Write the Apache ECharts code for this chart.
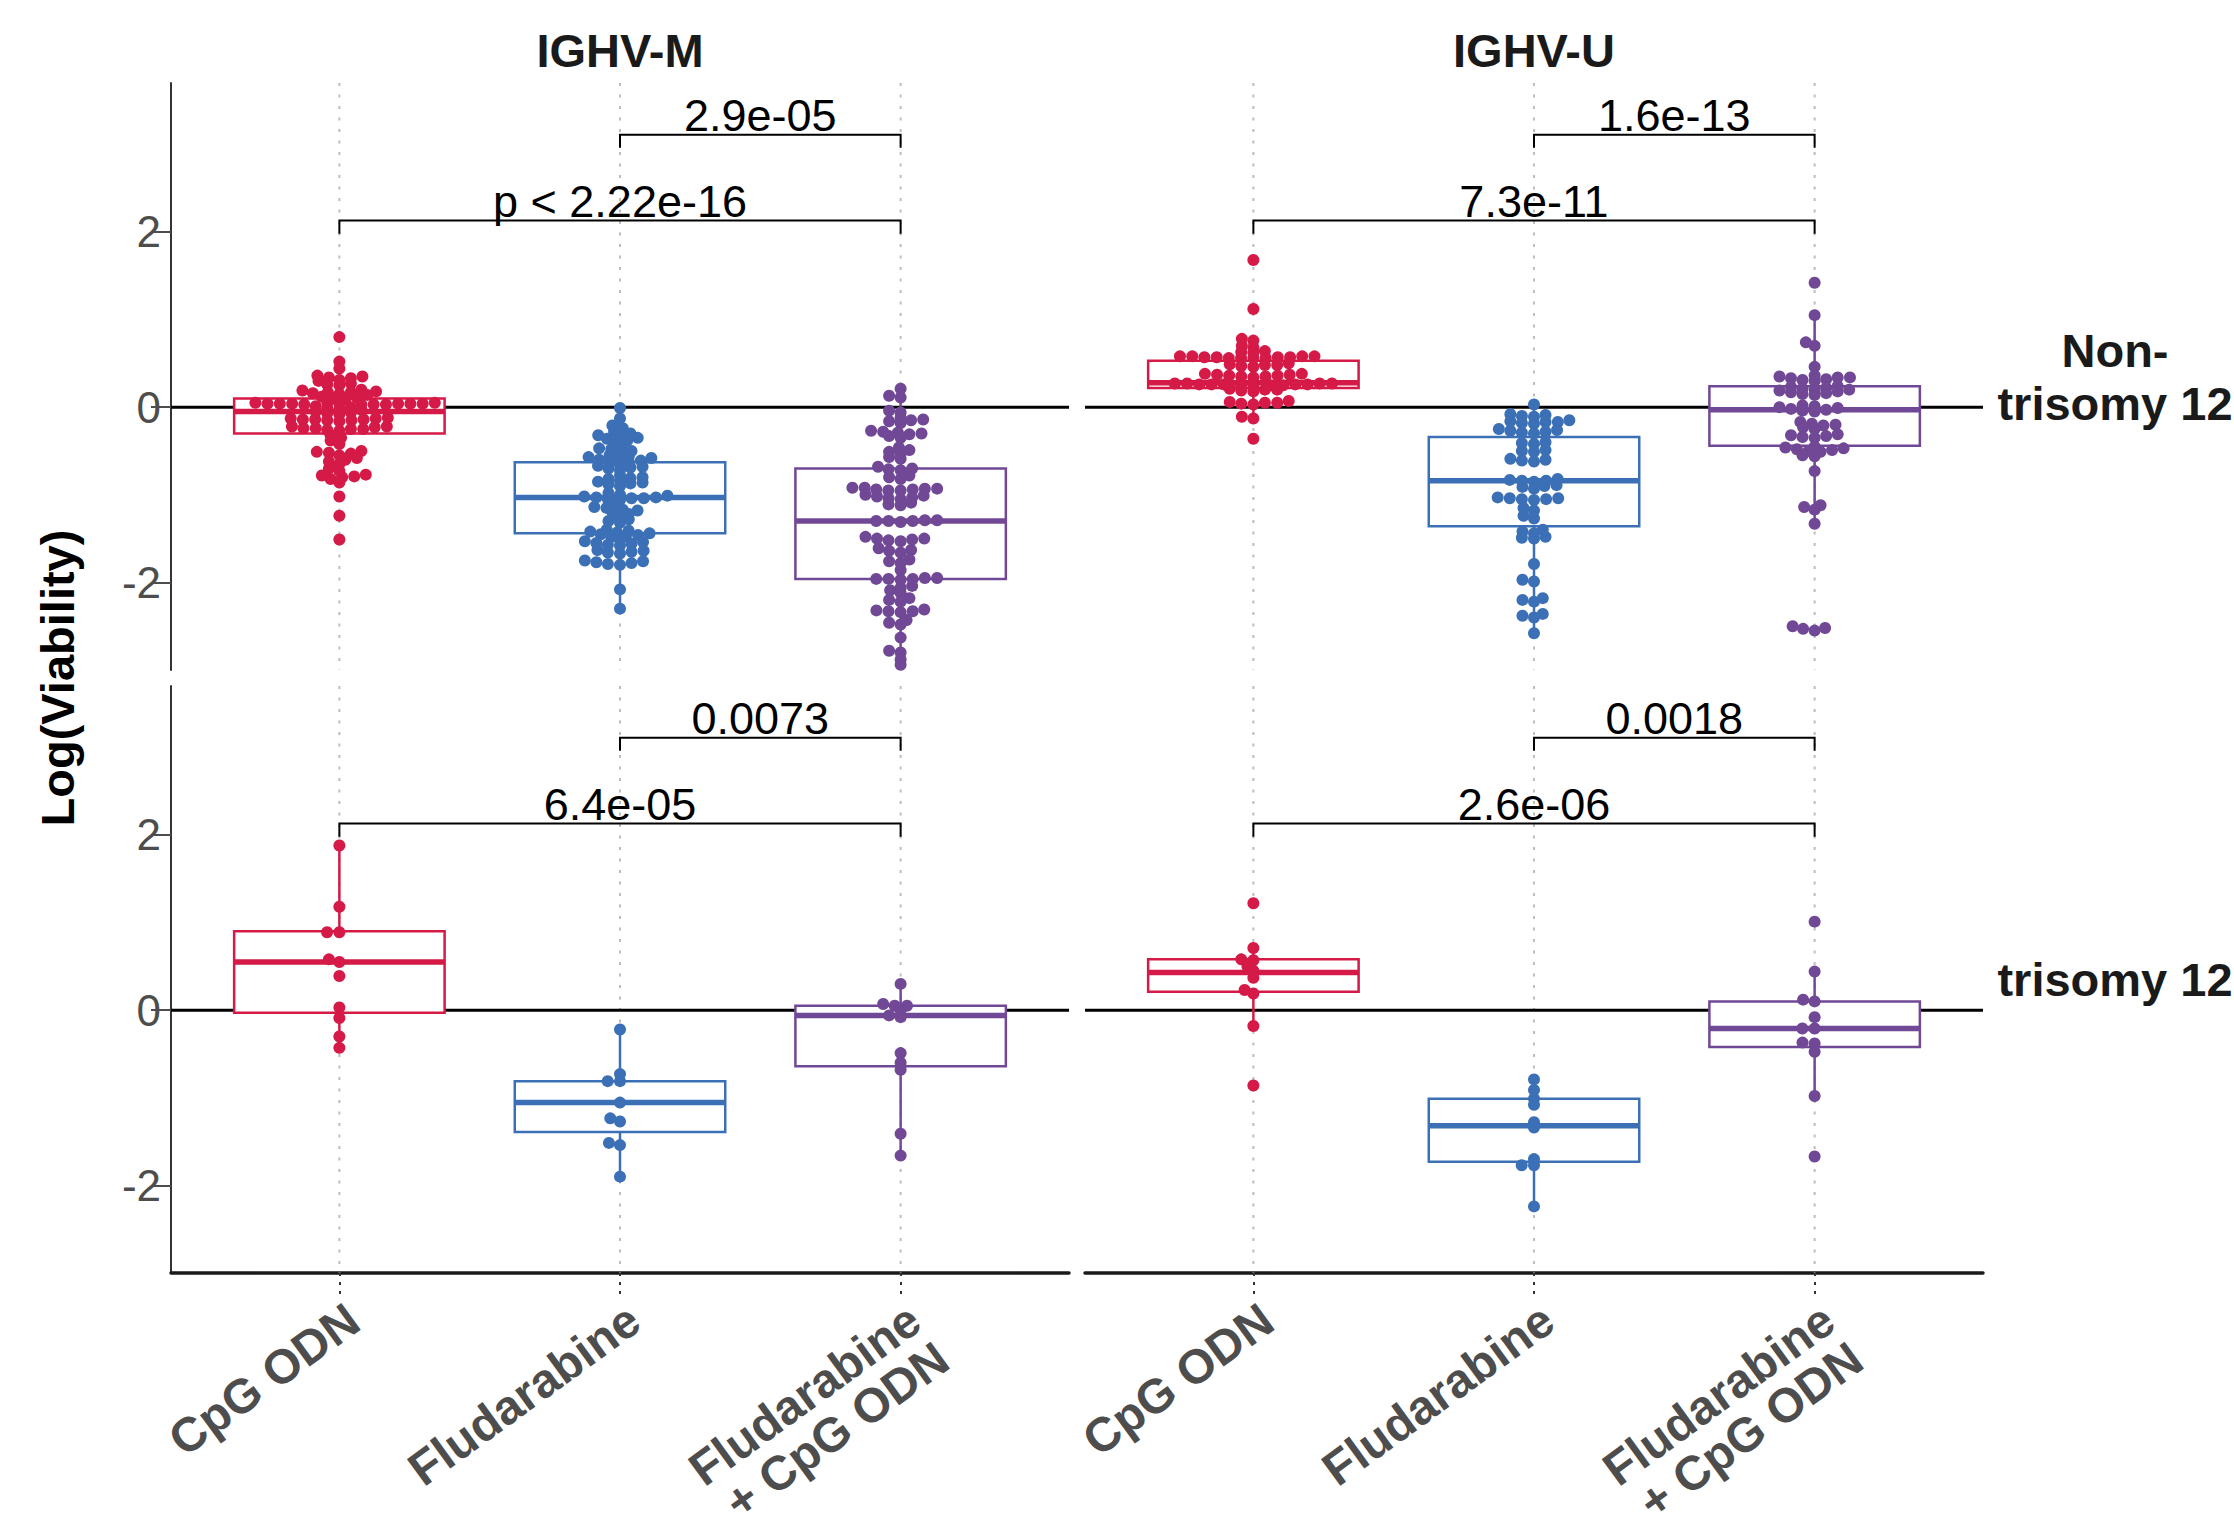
<!DOCTYPE html>
<html>
<head>
<meta charset="utf-8">
<script src="https://cdn.jsdelivr.net/npm/echarts@6/dist/echarts.min.js"></script>
<style>
html, body {margin: 0; padding: 0; background: #fff;}
#main {width: 2234px; height: 1528px;}
</style>
</head>
<body>
<div id="main"></div>
<script>
var categories = ['CpG ODN', 'Fludarabine', 'Fludarabine\n+ CpG ODN'];
var colors = ['#D51A47', '#3C70B6', '#704896'];
var yTicks = [-2, 0, 2];
var catTicks = [1, 2, 3];

// IGHV-M, non-trisomy 12
var mNonCpg = [0.80, 0.52, 0.44,
    0.36, 0.33, 0.34, 0.31, 0.35, 0.30, 0.26, 0.25, 0.27,
    0.19, 0.17, 0.18, 0.16, 0.20, 0.15, 0.14, 0.17, 0.11, 0.09, 0.12, 0.10,
    0.05, 0.04, 0.04, 0.03, 0.04, 0.05, 0.03, 0.04, 0.04, 0.03, 0.05, 0.04, 0.03, 0.04,
    0.00, -0.01, -0.02, 0.01, -0.03, -0.06, -0.07, -0.05, -0.08,
    -0.13, -0.14, -0.15, -0.12, -0.14, -0.13, -0.15, -0.16, -0.14,
    -0.22, -0.24, -0.25, -0.23, -0.26, -0.24, -0.22, -0.25, -0.27,
    -0.32, -0.35, -0.38, -0.42, -0.50, -0.52, -0.53, -0.51, -0.55,
    -0.60, -0.62, -0.58, -0.65, -0.70, -0.73,
    -0.77, -0.78, -0.80, -0.79, -0.82, -0.86, -1.02, -1.24, -1.51];
var mNonFlu = [-0.01, -0.13, -0.21, -0.24,
    -0.28, -0.30, -0.32, -0.35, -0.36, -0.38, -0.40, -0.33,
    -0.45, -0.47, -0.50, -0.48, -0.52,
    -0.55, -0.57, -0.58, -0.60, -0.59, -0.62, -0.56, -0.61, -0.63,
    -0.66, -0.68, -0.70, -0.67, -0.72, -0.69,
    -0.78, -0.80, -0.82, -0.84, -0.85, -0.87, -0.88, -0.90, -0.81, -0.86,
    -0.98, -1.00, -1.02, -1.03, -1.04, -1.05, -1.03, -1.01, -1.06, -1.04,
    -1.12, -1.15, -1.17, -1.20, -1.22, -1.25, -1.18, -1.14,
    -1.30, -1.32, -1.28,
    -1.40, -1.42, -1.44, -1.45, -1.46, -1.43, -1.41, -1.47, -1.48,
    -1.53, -1.55, -1.57, -1.56, -1.54, -1.58, -1.52,
    -1.63, -1.65, -1.66, -1.64, -1.67,
    -1.75, -1.77, -1.78, -1.80, -1.79, -1.76, -2.08, -2.30];
var mNonCombo = [0.21, 0.13, 0.11, -0.04, -0.06,
    -0.12, -0.14, -0.16, -0.18, -0.15,
    -0.27, -0.29, -0.31, -0.33, -0.35, -0.30, -0.28,
    -0.46, -0.49, -0.51, -0.53, -0.57, -0.59,
    -0.68, -0.70, -0.72, -0.71, -0.78, -0.80, -0.82,
    -0.92, -0.93, -0.94, -0.95, -0.94, -0.93, -0.92, -0.95,
    -1.00, -1.02, -1.04, -1.05, -1.01, -1.03, -1.09, -1.11, -1.12,
    -1.29, -1.30, -1.30, -1.31, -1.30, -1.29,
    -1.48, -1.50, -1.51, -1.52, -1.53, -1.50,
    -1.61, -1.63, -1.64, -1.66, -1.74, -1.76, -1.78, -1.86,
    -1.95, -1.96, -1.96, -1.97, -1.96, -1.95,
    -2.04, -2.06, -2.09, -2.12, -2.18, -2.20, -2.22,
    -2.31, -2.33, -2.34, -2.33, -2.32, -2.43, -2.46, -2.48,
    -2.63, -2.78, -2.80, -2.88, -2.94];

// IGHV-U, non-trisomy 12
var uNonCpg = [1.68, 1.12, 0.78, 0.76, 0.70, 0.68, 0.64, 0.62, 0.63,
    0.58, 0.57, 0.56, 0.58, 0.57, 0.56, 0.57, 0.58, 0.56, 0.57, 0.58, 0.56,
    0.50, 0.48, 0.47, 0.49, 0.46, 0.48,
    0.38, 0.36, 0.35, 0.37, 0.36, 0.34, 0.38, 0.35, 0.37,
    0.27, 0.26, 0.25, 0.27, 0.26, 0.25, 0.26, 0.27, 0.26, 0.25, 0.27, 0.25, 0.26,
    0.21, 0.20, 0.19, 0.20, 0.18,
    0.07, 0.05, 0.04, 0.06, 0.03, 0.05, -0.11, -0.13, -0.36];
var uNonFlu = [0.03, -0.08, -0.10, -0.11, -0.09,
    -0.15, -0.17, -0.18, -0.16, -0.19, -0.17,
    -0.25, -0.27, -0.29, -0.26, -0.28, -0.30,
    -0.40, -0.42, -0.41, -0.49, -0.51, -0.50, -0.59, -0.60, -0.62, -0.61,
    -0.82, -0.83, -0.84, -0.85, -0.84, -0.89, -0.91, -0.93, -0.90,
    -1.03, -1.04, -1.05, -1.06, -1.05, -1.04, -1.15, -1.18, -1.24, -1.27,
    -1.40, -1.42, -1.44, -1.48, -1.50, -1.49, -1.79, -1.97, -1.99,
    -2.18, -2.20, -2.22, -2.36, -2.38, -2.40, -2.58];
var uNonCombo = [1.42, 1.05, 0.74, 0.70, 0.46,
    0.36, 0.34, 0.32, 0.33, 0.35, 0.31, 0.30, 0.34,
    0.24, 0.22, 0.20, 0.18, 0.16, 0.21, 0.19, 0.15, 0.23, 0.17, 0.14, 0.20,
    0.02, 0.00, -0.02, -0.04, -0.01, -0.03, 0.01, -0.05,
    -0.17, -0.19, -0.21, -0.23, -0.25, -0.20,
    -0.31, -0.33, -0.35, -0.34, -0.32,
    -0.46, -0.48, -0.50, -0.47, -0.49, -0.45, -0.51, -0.55, -0.56,
    -0.73, -1.12, -1.14, -1.17, -1.33, -2.50, -2.52, -2.55, -2.53];

// IGHV-M, trisomy 12
var mTriCpg = [1.88, 1.18, 0.89, 0.89, 0.58, 0.55, 0.39, 0.03, -0.09, -0.30, -0.43];
var mTriFlu = [-0.22, -0.73, -0.81, -0.81, -1.055, -1.235, -1.27, -1.515, -1.54, -1.90];
var mTriCombo = [0.30, 0.07, 0.05, 0.05, 0.00, -0.06, -0.08, -0.49, -0.60, -0.68, -1.41, -1.66];

// IGHV-U, trisomy 12
var uTriCpg = [1.22, 0.71, 0.58, 0.57, 0.50, 0.45, 0.37, 0.23, 0.19, -0.18, -0.86];
var uTriFlu = [-0.79, -0.91, -1.01, -1.08, -1.28, -1.34, -1.70, -1.77, -1.77, -2.24];
var uTriCombo = [1.01, 0.44, 0.10, 0.12, -0.08, -0.21, -0.21, -0.37, -0.38, -0.475, -0.98, -1.67];

// boxes: [q1, median, q3] per treatment
var mNonBox = [[-0.30, -0.05, 0.10], [-1.44, -1.03, -0.63], [-1.96, -1.30, -0.70]];
var uNonBox = [[0.22, 0.28, 0.53], [-1.36, -0.84, -0.34], [-0.44, -0.03, 0.24]];
var mTriBox = [[-0.03, 0.55, 0.90], [-1.39, -1.055, -0.81], [-0.64, -0.06, 0.05]];
var uTriBox = [[0.21, 0.43, 0.58], [-1.73, -1.32, -1.01], [-0.42, -0.21, 0.10]];

// p-values: [CpG vs combo, Fludarabine vs combo]
var mNonP = ['p < 2.22e-16', '2.9e-05'];
var uNonP = ['7.3e-11', '1.6e-13'];
var mTriP = ['6.4e-05', '0.0073'];
var uTriP = ['2.6e-06', '0.0018'];
var bracketY = [2.13, 3.11];

var FONT = '"Liberation Sans", Arial, Helvetica, sans-serif';
var X_MIN = 0.4, X_MAX = 3.6, Y_MIN = -3, Y_MAX = 3.7;
var GW = 898, GH = 587;
var lefts = [171, 1085], tops = [83, 686];
var pxX = GW / (X_MAX - X_MIN), pxY = GH / (Y_MAX - Y_MIN);
var DOT = 12;
var SPACE_X = 12.3, SPACE_Y = 5;

var panels = [
    {col: 0, row: 0, groups: [mNonCpg, mNonFlu, mNonCombo], box: mNonBox, p: mNonP},
    {col: 1, row: 0, groups: [uNonCpg, uNonFlu, uNonCombo], box: uNonBox, p: uNonP},
    {col: 0, row: 1, groups: [mTriCpg, mTriFlu, mTriCombo], box: mTriBox, p: mTriP},
    {col: 1, row: 1, groups: [uTriCpg, uTriFlu, uTriCombo], box: uTriBox, p: uTriP}
];

// beeswarm offsets (in x data units) from the values
function swarm(vals) {
    var order = vals.map(function (v, i) { return i; })
        .sort(function (a, b) { return vals[a] - vals[b]; });
    var placed = [], out = [];
    order.forEach(function (i) {
        var y = vals[i] * pxY / SPACE_Y;
        var near = placed.filter(function (p) { return Math.abs(p.y - y) < 1; });
        var cands = [0];
        near.forEach(function (p) {
            var dx = Math.sqrt(1 - (p.y - y) * (p.y - y));
            cands.push(p.x - dx, p.x + dx);
        });
        cands.sort(function (a, b) { return Math.abs(a) - Math.abs(b); });
        var x = 0;
        for (var k = 0; k < cands.length; k++) {
            var c = cands[k];
            var ok = near.every(function (p) {
                return (p.x - c) * (p.x - c) + (p.y - y) * (p.y - y) >= 0.999;
            });
            if (ok) { x = c; break; }
        }
        placed.push({x: x, y: y});
        out[i] = x * SPACE_X / pxX;
    });
    return out;
}

function whiskers(vals, b) {
    var iqr = b[2] - b[0];
    var lo = b[0], hi = b[2];
    vals.forEach(function (v) {
        if (v >= b[0] - 1.5 * iqr && v < lo) lo = v;
        if (v <= b[2] + 1.5 * iqr && v > hi) hi = v;
    });
    return [lo, hi];
}

var grids = [], xAxes = [], yAxes = [], series = [];

panels.forEach(function (pn, gi) {
    var bottom = pn.row === 1, left = pn.col === 0;
    grids.push({left: lefts[pn.col], top: tops[pn.row], width: GW, height: GH,
        containLabel: false, outerBoundsMode: 'none'});
    xAxes.push({
        type: 'value', gridIndex: gi, min: X_MIN, max: X_MAX,
        splitLine: {show: false},
        axisLine: {show: bottom, onZero: false, lineStyle: {color: '#1a1a1a', width: 3.5}},
        axisTick: {show: bottom, customValues: catTicks, length: 24,
            lineStyle: {color: '#333', width: 2, type: [3, 6]}},
        axisLabel: {show: bottom, customValues: catTicks, rotate: 36, margin: 22,
            align: 'right', verticalAlign: 'top', lineHeight: 48,
            fontFamily: FONT, fontSize: 48, fontWeight: 'bold', color: '#4d4d4d',
            formatter: function (v) { return categories[Math.round(v) - 1] || ''; }}
    });
    yAxes.push({
        type: 'value', gridIndex: gi, min: Y_MIN, max: Y_MAX,
        splitLine: {show: false},
        axisLine: {show: left, onZero: false, lineStyle: {color: '#333', width: 2}},
        axisTick: {show: left, customValues: yTicks, length: 20,
            lineStyle: {color: '#4d4d4d', width: 2}},
        axisLabel: {show: left, customValues: yTicks, margin: 10,
            fontFamily: FONT, fontSize: 44, color: '#4d4d4d',
            formatter: function (v) { return String(v); }}
    });

    // dotted guides at each treatment
    series.push({
        type: 'custom', xAxisIndex: gi, yAxisIndex: gi, z: 1, silent: true, clip: false,
        data: catTicks,
        renderItem: function (params, api) {
            var a = api.coord([api.value(0), Y_MAX]), b = api.coord([api.value(0), Y_MIN]);
            return {type: 'line', shape: {x1: a[0], y1: a[1], x2: b[0], y2: b[1]},
                style: {stroke: '#bdbdbd', lineWidth: 2, lineDash: [3, 8.5]}};
        }
    });
    // reference line at 0
    series.push({
        type: 'custom', xAxisIndex: gi, yAxisIndex: gi, z: 2, silent: true, clip: false,
        data: [0],
        renderItem: function (params, api) {
            var a = api.coord([X_MIN, api.value(0)]), b = api.coord([X_MAX, api.value(0)]);
            return {type: 'line', shape: {x1: a[0], y1: a[1], x2: b[0], y2: b[1]},
                style: {stroke: '#000', lineWidth: 3}};
        }
    });
    // boxes
    var boxData = pn.box.map(function (b, g) {
        var w = whiskers(pn.groups[g], b);
        return [g + 1, w[0], b[0], b[1], b[2], w[1]];
    });
    series.push({
        type: 'custom', xAxisIndex: gi, yAxisIndex: gi, z: 3, silent: true, clip: false,
        data: boxData,
        renderItem: function (params, api) {
            var x = api.value(0), hw = 0.375;
            var col = colors[params.dataIndex];
            var lo = api.coord([x, api.value(1)]), q1 = api.coord([x, api.value(2)]);
            var md = api.coord([x, api.value(3)]), q3 = api.coord([x, api.value(4)]);
            var hi = api.coord([x, api.value(5)]);
            var l = api.coord([x - hw, 0])[0], r = api.coord([x + hw, 0])[0];
            return {type: 'group', children: [
                {type: 'line', shape: {x1: lo[0], y1: lo[1], x2: q1[0], y2: q1[1]},
                    style: {stroke: col, lineWidth: 2.5}},
                {type: 'line', shape: {x1: q3[0], y1: q3[1], x2: hi[0], y2: hi[1]},
                    style: {stroke: col, lineWidth: 2.5}},
                {type: 'rect', shape: {x: l, y: q3[1], width: r - l, height: q1[1] - q3[1]},
                    style: {fill: '#fff', stroke: col, lineWidth: 2.5}},
                {type: 'line', shape: {x1: l, y1: md[1], x2: r, y2: md[1]},
                    style: {stroke: col, lineWidth: 5.5}}
            ]};
        }
    });
    // points
    pn.groups.forEach(function (vals, g) {
        var off = swarm(vals);
        series.push({
            type: 'scatter', xAxisIndex: gi, yAxisIndex: gi, z: 4, silent: true,
            symbolSize: DOT, itemStyle: {color: colors[g], opacity: 1},
            data: vals.map(function (v, i) { return [g + 1 + off[i], v]; })
        });
    });
    // comparison brackets
    series.push({
        type: 'custom', xAxisIndex: gi, yAxisIndex: gi, z: 5, silent: true, clip: false,
        data: [[1, 3, bracketY[0]], [2, 3, bracketY[1]]],
        renderItem: function (params, api) {
            var y = api.value(2), tip = 0.15;
            var a = api.coord([api.value(0), y - tip]), b = api.coord([api.value(0), y]);
            var c = api.coord([api.value(1), y]), d = api.coord([api.value(1), y - tip]);
            return {type: 'group', children: [
                {type: 'polyline', shape: {points: [a, b, c, d]},
                    style: {stroke: '#000', lineWidth: 2, fill: null}},
                {type: 'text', x: (b[0] + c[0]) / 2, y: b[1] + 3,
                    style: {text: pn.p[params.dataIndex], align: 'center', verticalAlign: 'bottom',
                        fontFamily: FONT, fontSize: 45, fill: '#000'}}
            ]};
        }
    });
});

var textStyleBold = function (txt, size) {
    return {text: txt, fontFamily: FONT, fontSize: size, fontWeight: 'bold', fill: '#1a1a1a',
        align: 'center', verticalAlign: 'middle', lineHeight: 53};
};

var chart = echarts.init(document.getElementById('main'), null, {renderer: 'svg'});
chart.setOption({
    animation: false,
    backgroundColor: '#fff',
    grid: grids,
    xAxis: xAxes,
    yAxis: yAxes,
    series: series,
    graphic: [
        {type: 'text', x: lefts[0] + GW / 2, y: 50, style: textStyleBold('IGHV-M', 47)},
        {type: 'text', x: lefts[1] + GW / 2, y: 50, style: textStyleBold('IGHV-U', 47)},
        {type: 'text', x: 2115, y: tops[0] + GH / 2, style: textStyleBold('Non-\ntrisomy 12', 47)},
        {type: 'text', x: 2115, y: tops[1] + GH / 2, style: textStyleBold('trisomy 12', 47)},
        {type: 'text', x: 57, y: (tops[0] + tops[1] + GH) / 2, rotation: Math.PI / 2,
            style: Object.assign(textStyleBold('Log(Viability)', 47), {fill: '#000'})}
    ]
});
</script>
</body>
</html>
